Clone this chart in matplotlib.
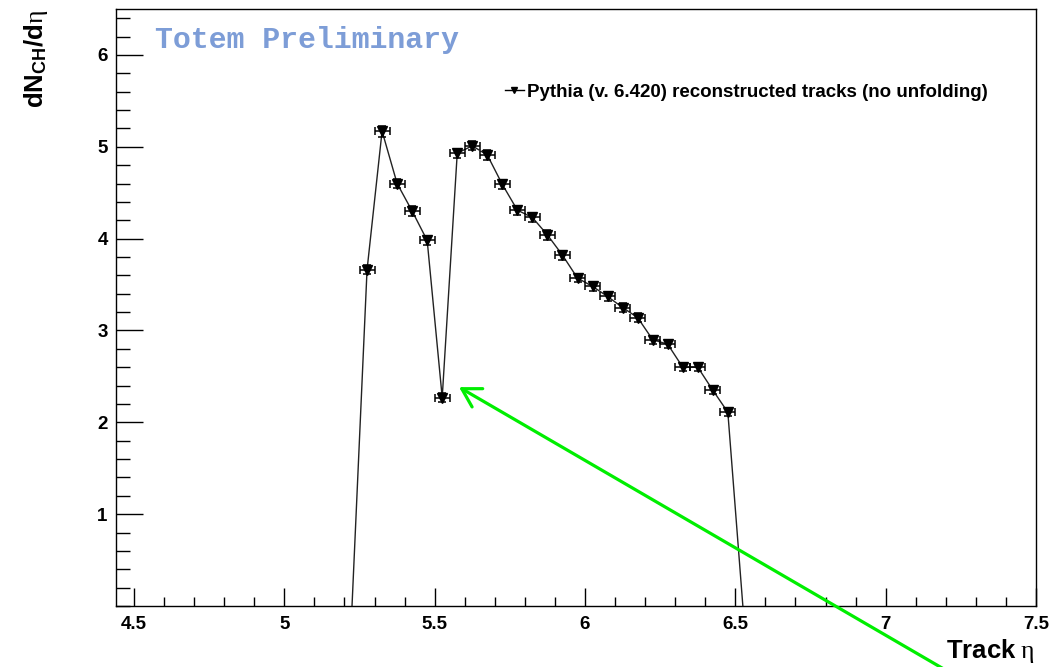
import matplotlib
matplotlib.use("Agg")
import matplotlib.pyplot as plt
from matplotlib.lines import Line2D
from matplotlib.ticker import MultipleLocator, FixedLocator
import numpy as np

# ---- data ----
eta = [5.225, 5.275, 5.325, 5.375, 5.425, 5.475, 5.525, 5.575, 5.625, 5.675,
       5.725, 5.775, 5.825, 5.875, 5.925, 5.975, 6.025, 6.075, 6.125, 6.175,
       6.225, 6.275, 6.325, 6.375, 6.425, 6.475, 6.525]
dndeta = [0.0, 3.66, 5.17, 4.60, 4.30, 3.98, 2.27, 4.93, 5.01, 4.91,
          4.59, 4.31, 4.23, 4.04, 3.82, 3.57, 3.48, 3.37, 3.25, 3.14,
          2.90, 2.85, 2.60, 2.60, 2.35, 2.11, 0.0]
yerr = [0.0, 0.05, 0.06, 0.05, 0.05, 0.05, 0.05, 0.05, 0.05, 0.05,
        0.05, 0.05, 0.05, 0.05, 0.05, 0.045, 0.045, 0.045, 0.045, 0.045,
        0.045, 0.045, 0.045, 0.045, 0.045, 0.045, 0.0]
bin_half = 0.025
xticks_major = [4.5, 5.0, 5.5, 6.0, 6.5, 7.0, 7.5]
xtick_labels = ["4.5", "5", "5.5", "6", "6.5", "7", "7.5"]
yticks_major = [1, 2, 3, 4, 5, 6]
ytick_labels = ["1", "2", "3", "4", "5", "6"]
legend_label = "Pythia (v. 6.420) reconstructed tracks (no unfolding)"
arrow_tip = (5.581, 2.383)
arrow_tail = (7.19, -0.68)

plt.rcParams['mathtext.fontset'] = 'custom'
plt.rcParams['mathtext.bf'] = 'Liberation Sans:bold'
plt.rcParams['mathtext.rm'] = 'Liberation Serif'
plt.rcParams['mathtext.it'] = 'Liberation Serif:italic'

fig = plt.figure(figsize=(10.54, 6.67), dpi=100)
ax = fig.add_axes([116/1054, 61/667, 920/1054, 597/667])

x = np.array(eta)
y = np.array(dndeta)
e = np.array(yerr)
nz = y > 0

ax.plot(x, y, color='#222222', lw=1.0, zorder=2)
ax.errorbar(x[nz], y[nz], xerr=bin_half, yerr=e[nz], fmt='v', color='black',
            ms=7, ecolor='black', elinewidth=1.1, capsize=2.8, capthick=1.1, zorder=3)

ax.set_xlim(4.44, 7.5)
ax.set_ylim(0.0, 6.5)

ax.xaxis.set_major_locator(FixedLocator(xticks_major))
ax.set_xticklabels(xtick_labels)
ax.xaxis.set_minor_locator(MultipleLocator(0.1))
ax.yaxis.set_major_locator(FixedLocator(yticks_major))
ax.set_yticklabels(ytick_labels)
ax.yaxis.set_minor_locator(MultipleLocator(0.2))

ax.tick_params(axis='x', which='major', direction='in', length=13, width=1, pad=7)
ax.tick_params(axis='x', which='minor', direction='in', length=6.5, width=1)
ax.tick_params(axis='y', which='major', direction='in', length=19.5, width=1, pad=6)
ax.tick_params(axis='y', which='minor', direction='in', length=10, width=1)
for lab in ax.get_xticklabels() + ax.get_yticklabels():
    lab.set_fontfamily('Liberation Sans')
    lab.set_fontweight('bold')
    lab.set_fontsize(13.5)
for sp in ax.spines.values():
    sp.set_linewidth(1.0)
    sp.set_color('black')

# axis titles
fig.text(1035/1054, (667-658)/667, r'$\mathbf{Track}\ \mathrm{\eta}$', ha='right',
         va='baseline', fontsize=18.5)
fig.text(36/1054, (667-10)/667, r'$\mathbf{dN}_{\mathbf{CH}}\mathbf{/d}\mathrm{\eta}$',
         rotation=90, ha='center', va='top', fontsize=18.5)

# Totem Preliminary
ax.text(0.042, 0.935, "Totem Preliminary", transform=ax.transAxes,
        fontfamily='Liberation Mono', fontweight='bold', fontsize=21.5,
        color='#7d9dd7', ha='left', va='baseline')

# legend
h = Line2D([], [], color='black', lw=1, marker='v', ms=5)
leg = ax.legend([h], [legend_label], loc='center right',
                bbox_to_anchor=(0.948, 0.861), frameon=False,
                handlelength=1.0, handletextpad=0.2, borderpad=0, borderaxespad=0,
                prop={'family': 'Liberation Sans', 'weight': 'bold', 'size': 13.5})

# green arrow
ax.annotate("", xy=arrow_tip, xytext=arrow_tail, xycoords='data', textcoords='data',
            annotation_clip=False,
            arrowprops=dict(arrowstyle='->,head_length=13,head_width=7.6',
                            mutation_scale=1, color='#00ee00', lw=2.3,
                            shrinkA=0, shrinkB=0))

fig.savefig("out.png", dpi=100)
